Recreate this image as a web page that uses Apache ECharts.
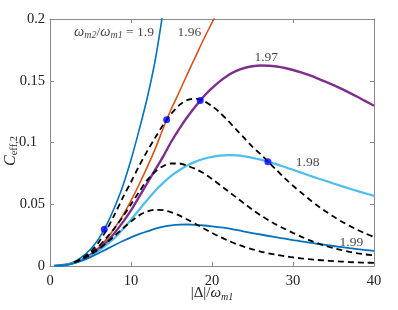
<!DOCTYPE html>
<html>
<head>
<meta charset="utf-8">
<script src="https://cdn.jsdelivr.net/npm/echarts@6/dist/echarts.min.js"></script>
<style>html,body{margin:0;padding:0;background:#fff}#c{width:398px;height:310px}</style>
</head>
<body>
<div id="c"></div>
<script>
// ---- data ----
const xTicks = [0, 10, 20, 30, 40];
const yTicks = [0, 0.05, 0.1, 0.15, 0.2];

const xA = [0.5,1,2,3,4,5,6,7,8,9,10,11,12,13,14];
const y190 = [0.0001,0.0003,0.0012,0.0035,0.0075,0.0135,0.022,0.0335,0.048,0.065,0.086,0.110,0.136,0.167,0.208];

const xB = [0.5,1,2,3,4,5,6,7,8,9,10,11,12,13,14,15,16,17,18,19,20,21];
const y196 = [0.0001,0.0003,0.001,0.0028,0.0055,0.0095,0.015,0.022,0.031,0.041,0.053,0.066,0.080,0.095,0.112,0.1275,0.1415,0.156,0.170,0.184,0.197,0.21];

const xC = [0.5,1,2,3,4,5,6,7,8,9,10,11,12,13,14,15,16,17,18,19,20,21,22,23,24,25,26,27,28,29,30,31,32,33,34,35,36,37,38,39,40];
const y197 = [0.0001,0.0003,0.001,0.0027,0.0052,0.0088,0.0135,0.0195,0.027,0.0355,0.045,0.056,0.067,0.078,0.089,0.101,0.1115,0.121,0.1295,0.1375,0.144,0.1497,0.1545,0.158,0.1603,0.1617,0.1623,0.1622,0.1615,0.1603,0.1587,0.1567,0.1545,0.152,0.1493,0.1464,0.1434,0.1402,0.1368,0.1333,0.1297];
const y198 = [0.0001,0.0003,0.001,0.0025,0.0048,0.008,0.0122,0.0172,0.023,0.0297,0.0375,0.0455,0.0535,0.061,0.0675,0.0732,0.0777,0.0815,0.0845,0.0868,0.0884,0.0893,0.0897,0.0895,0.0888,0.0876,0.0861,0.0843,0.0823,0.0801,0.0779,0.0756,0.0733,0.0711,0.069,0.0668,0.0647,0.0626,0.0606,0.0587,0.0568];
const y199 = [0.0001,0.0003,0.001,0.0024,0.0045,0.0072,0.0103,0.0137,0.017,0.0202,0.0232,0.0258,0.028,0.0302,0.0318,0.0329,0.0335,0.0336,0.0333,0.0328,0.0321,0.0313,0.0304,0.0292,0.0279,0.0267,0.0255,0.0243,0.0232,0.0221,0.021,0.02,0.019,0.018,0.0171,0.0162,0.0153,0.0144,0.0136,0.0129,0.0122];

const xD = [3,4,5,6,7,8,9,10,11,12,13,14,15,16,17,18,19,20,21,22,23,24,25,26,27,28,29,30,31,32,33,34,35,36,37,38,39,40];
const dashA = [0.003,0.0065,0.0115,0.019,0.0295,0.042,0.0555,0.068,0.081,0.093,0.104,0.1145,0.1235,0.1305,0.1345,0.1355,0.1335,0.1295,0.124,0.1175,0.1105,0.1035,0.0965,0.0905,0.084,0.0775,0.071,0.065,0.0595,0.054,0.049,0.0443,0.04,0.036,0.0325,0.0292,0.0262,0.0235];
const dashB = [0.003,0.006,0.0102,0.0158,0.023,0.031,0.040,0.05,0.06,0.0695,0.0765,0.081,0.083,0.083,0.081,0.0785,0.075,0.0705,0.0655,0.0605,0.0555,0.0505,0.0455,0.041,0.037,0.0333,0.03,0.0268,0.0238,0.021,0.0185,0.0163,0.0145,0.0129,0.0115,0.0103,0.0093,0.0086];
const dashC = [0.003,0.0055,0.009,0.0135,0.0188,0.0245,0.0305,0.036,0.041,0.0442,0.0455,0.0452,0.0435,0.0408,0.0375,0.034,0.0303,0.0268,0.0235,0.0205,0.0178,0.0155,0.0135,0.0117,0.0102,0.009,0.0079,0.007,0.0062,0.0055,0.0049,0.0044,0.004,0.0036,0.0032,0.0029,0.0027,0.0025];

const markX = [6.7, 14.4, 18.55, 26.9];
const markY = [0.0297, 0.1185, 0.134, 0.0845];

const labelText = ['{w|ω}{s|m2}{n|/}{w|ω}{s|m1}{n| = 1.9}', '{n|1.96}', '{n|1.97}', '{n|1.98}', '{n|1.99}'];
const labelX = [7.9, 17.2, 26.7, 31.8, 37.2];
const labelY = [0.1895, 0.1895, 0.169, 0.0842, 0.0194];

// ---- chart ----
const pair = (xs, ys) => xs.map((x, i) => [x, ys[i]]);
const FONT = 'Liberation Serif';
const AX = '#8a8a8a';

function solid(xs, ys, color, w) {
  return { type: 'line', data: pair(xs, ys), showSymbol: false, smooth: 0.3, clip: true,
    lineStyle: { color: color, width: w }, z: 3 };
}
function dashed(ys) {
  return { type: 'line', data: pair(xD, ys), showSymbol: false, smooth: 0.3, clip: true,
    lineStyle: { color: '#000', width: 1.8, type: [6, 4] }, z: 4 };
}

const rich = {
  n: { fontFamily: FONT, fontSize: 13.5, color: '#111' },
  w: { fontFamily: FONT, fontSize: 14.5, fontStyle: 'italic', color: '#111' },
  s: { fontFamily: FONT, fontSize: 10, fontStyle: 'italic', color: '#111', padding: [7, 0, 0, 0] }
};

const chart = echarts.init(document.getElementById('c'), null, { renderer: 'canvas' });
chart.setOption({
  animation: false,
  backgroundColor: '#fff',
  grid: { left: 50, right: 24, top: 19, bottom: 44, containLabel: false, outerBoundsMode: 'none' },
  xAxis: [{
    type: 'value', min: xTicks[0], max: xTicks[xTicks.length - 1], interval: 10,
    axisLine: { show: true, onZero: false, lineStyle: { color: AX, width: 1 } },
    axisTick: { show: true, inside: true, length: 4, lineStyle: { color: AX } },
    splitLine: { show: false },
    axisLabel: { color: '#222', fontFamily: FONT, fontSize: 14.5, margin: 8 },
    name: '{b||Δ|/}{w|ω}{s|m1}', nameLocation: 'middle', nameGap: 18, nameMoveOverlap: false,
    nameTextStyle: { rich: {
      b: { fontFamily: FONT, fontSize: 15, color: '#222' },
      w: { fontFamily: FONT, fontSize: 15, fontStyle: 'italic', color: '#222' },
      s: { fontFamily: FONT, fontSize: 10, fontStyle: 'italic', color: '#222', padding: [8, 0, 0, 0] }
    } }
  }, {
    type: 'value', position: 'top', min: 0, max: 40, interval: 10,
    axisLine: { show: true, onZero: false, lineStyle: { color: AX, width: 1 } },
    axisTick: { show: true, inside: true, length: 4, lineStyle: { color: AX } },
    axisLabel: { show: false }, splitLine: { show: false }
  }],
  yAxis: [{
    type: 'value', min: yTicks[0], max: yTicks[yTicks.length - 1], interval: 0.05,
    axisLine: { show: true, onZero: false, lineStyle: { color: AX, width: 1 } },
    axisTick: { show: true, inside: true, length: 4, lineStyle: { color: AX } },
    splitLine: { show: false },
    axisLabel: { color: '#222', fontFamily: FONT, fontSize: 14.5, margin: 5,
      formatter: v => { const s = String(+v.toFixed(2)); return s === '0.1' ? '{p|' + s + '}' : s; },
      rich: { p: { fontFamily: FONT, fontSize: 14.5, color: '#222', padding: [0, 8, 0, 0] } } },
    name: '{c|C}{s|eff,2}', nameLocation: 'middle', nameRotate: 90, nameGap: 30, nameMoveOverlap: false,
    nameTextStyle: { padding: [0, 17, 0, 0], rich: {
      c: { fontFamily: FONT, fontSize: 16, fontStyle: 'italic', color: '#222' },
      s: { fontFamily: FONT, fontSize: 10.5, color: '#222', padding: [8, 0, 0, 0] }
    } }
  }, {
    type: 'value', position: 'right', min: 0, max: 0.2, interval: 0.05,
    axisLine: { show: true, onZero: false, lineStyle: { color: AX, width: 1 } },
    axisTick: { show: true, inside: true, length: 4, lineStyle: { color: AX } },
    axisLabel: { show: false }, splitLine: { show: false }
  }],
  series: [
    solid(xA, y190, '#0072BD', 1.6),
    solid(xB, y196, '#D95319', 1.6),
    solid(xC, y197, '#7E2F8E', 2.4),
    solid(xC, y198, '#4DBEEE', 2.2),
    solid(xC, y199, '#0072BD', 1.8),
    dashed(dashA), dashed(dashB), dashed(dashC),
    { type: 'scatter', data: pair(markX, markY), symbol: 'circle', symbolSize: 7,
      itemStyle: { color: '#0000FF' }, z: 6 },
    { type: 'scatter', data: labelX.map((x, i) => ({ value: [x, labelY[i]],
        label: { show: true, position: 'inside', formatter: labelText[i], rich: rich } })),
      symbolSize: 2, itemStyle: { color: 'rgba(0,0,0,0)' }, silent: true, z: 7,
      labelLayout: { hideOverlap: false } }
  ]
});
</script>
</body>
</html>
